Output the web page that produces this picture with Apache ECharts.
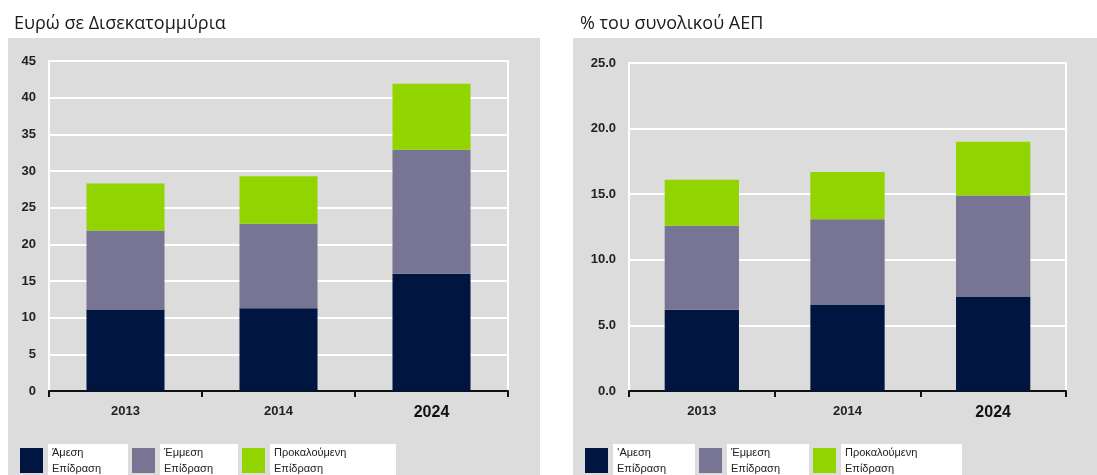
<!DOCTYPE html>
<html>
<head>
<meta charset="utf-8">
<script src="https://cdn.jsdelivr.net/npm/echarts@6/dist/echarts.min.js"></script>
<style>
  html, body { margin: 0; padding: 0; background: #fff; }
  #main { width: 1097px; height: 475px; }
</style>
</head>
<body>
<div id="main"></div>
<script>
var years = ['2013', '2014', '2024'];

// Ευρώ σε Δισεκατομμύρια
var eurDirect = [11.1, 11.3, 16.0];
var eurIndirect = [10.8, 11.5, 16.9];
var eurInduced = [6.4, 6.5, 9.0];

// % του συνολικού ΑΕΠ
var gdpDirect = [6.2, 6.6, 7.2];
var gdpIndirect = [6.4, 6.5, 7.7];
var gdpInduced = [3.5, 3.6, 4.1];

var names = ['Άμεση Επίδραση', 'Έμμεση Επίδραση', 'Προκαλούμενη Επίδραση'];
var colors = ['#001540', '#777593', '#92d400'];

var myChart = echarts.init(document.getElementById('main'));

var fontFam = '"Liberation Sans", Arial, sans-serif';

function xAxisFor(idx) {
  return {
    type: 'category',
    gridIndex: idx,
    data: years,
    axisLine: { lineStyle: { color: '#111', width: 2 } },
    axisTick: { show: true, length: 6, lineStyle: { color: '#111', width: 2 } },
    axisLabel: {
      margin: 14,
      fontFamily: fontFam,
      fontSize: 13,
      fontWeight: 'bold',
      color: '#222',
      formatter: function (v) {
        return v === '2024' ? '{big|' + v + '}' : v;
      },
      rich: {
        big: { fontFamily: fontFam, fontSize: 16, fontWeight: 'bold', color: '#111' }
      }
    }
  };
}

function yAxisFor(idx, max, interval, digits) {
  return {
    type: 'value',
    gridIndex: idx,
    min: 0,
    max: max,
    interval: interval,
    axisLine: { show: true, lineStyle: { color: '#fff', width: 2 } },
    axisTick: { show: false },
    splitLine: { lineStyle: { color: '#fff', width: 2 } },
    axisLabel: {
      margin: 13,
      fontFamily: fontFam,
      fontSize: 13,
      fontWeight: 'bold',
      color: '#222',
      formatter: function (v) { return v.toFixed(digits); }
    }
  };
}

function legendFor(left, first, widths) {
  return {
    left: left,
    top: 439,
    itemWidth: 23,
    itemHeight: 25,
    itemGap: 4,
    icon: 'rect',
    data: names.map(function (n, i) {
      return { name: n, textStyle: { width: widths[i] } };
    }),
    selectedMode: false,
    formatter: function (n) {
      var parts = n.split(' ');
      if (n === names[0] && first === false) parts[0] = '\u02BCΑμεση';
      return parts[0] + '\n' + parts[1];
    },
    textStyle: {
      fontFamily: fontFam,
      fontSize: 11,
      color: '#222',
      lineHeight: 16,
      backgroundColor: '#fff',
      padding: [1, 4, 0, 4],
      width: 72
    }
  };
}

function barSeries(name, data, color, idx) {
  return {
    name: name,
    type: 'bar',
    stack: 'total' + idx,
    xAxisIndex: idx,
    yAxisIndex: idx,
    barWidth: '51%',
    data: data,
    itemStyle: { color: color },
    emphasis: { disabled: true }
  };
}

var titleStyle = { fontFamily: '"Open Sans", "Noto Sans", sans-serif', fontSize: 18, fontWeight: 'normal', color: '#1a1a1a' };

var option = {
  animation: false,
  backgroundColor: '#fff',
  graphic: [
    { type: 'rect', z: -10, shape: { x: 8, y: 38, width: 532, height: 440 }, style: { fill: '#dcdcdc' } },
    { type: 'rect', z: -10, shape: { x: 573, y: 38, width: 530, height: 440 }, style: { fill: '#dcdcdc' } }
  ],
  title: [
    { text: 'Ευρώ σε Δισεκατομμύρια', left: 9, top: 10, textStyle: titleStyle },
    { text: '% του συνολικού ΑΕΠ', left: 575, top: 10, textStyle: titleStyle }
  ],
  grid: [
    { left: 49, right: 589, top: 61, bottom: 84, show: true, borderColor: '#fff', borderWidth: 2, backgroundColor: 'transparent' },
    { left: 629, right: 31, top: 63, bottom: 84, show: true, borderColor: '#fff', borderWidth: 2, backgroundColor: 'transparent' }
  ],
  legend: [legendFor(15, true, [72, 70, 118]), legendFor(580, false, [74, 74, 113])],
  xAxis: [xAxisFor(0), xAxisFor(1)],
  yAxis: [yAxisFor(0, 45, 5, 0), yAxisFor(1, 25, 5, 1)],
  series: [
    barSeries(names[0], eurDirect, colors[0], 0),
    barSeries(names[1], eurIndirect, colors[1], 0),
    barSeries(names[2], eurInduced, colors[2], 0),
    barSeries(names[0], gdpDirect, colors[0], 1),
    barSeries(names[1], gdpIndirect, colors[1], 1),
    barSeries(names[2], gdpInduced, colors[2], 1)
  ]
};

option && myChart.setOption(option);
</script>
</body>
</html>
